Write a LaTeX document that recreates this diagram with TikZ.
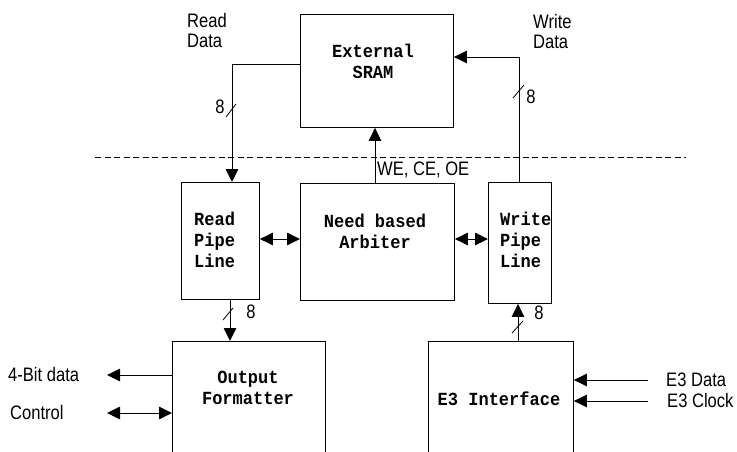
\documentclass[tikz,border=0pt]{standalone}
\usepackage{fontspec}
\setmainfont{Liberation Sans}
\newfontfamily\labfont[FakeStretch=0.85]{Liberation Sans}
\newfontfamily\monofont[FakeStretch=0.92]{Liberation Mono}
\usetikzlibrary{arrows.meta}
\begin{document}
\begin{tikzpicture}[x=1pt,y=-1pt,
  blk/.style={draw,line width=0.9pt,anchor=north west,inner sep=0pt},
  lab/.style={inner sep=0pt,font=\labfont\fontsize{19.5}{20}\selectfont},
  mono/.style={inner sep=0pt,font=\monofont\bfseries\fontsize{18.5}{21}\selectfont},
  conn/.style={line width=0.9pt},
  arr/.style={conn,-{Triangle[length=13pt,width=12.5pt]}},
  darr/.style={conn,{Triangle[length=13pt,width=12.5pt]}-{Triangle[length=13pt,width=12.5pt]}},
  bus/.style={line width=0.8pt}]
\clip (0,0) rectangle (737,452);
\fill[white] (0,0) rectangle (737,452);

% blocks
\node[blk,minimum width=153pt,minimum height=113pt] (sram) at (300,14) {};
\node[blk,minimum width=78pt,minimum height=117pt] (rpipe) at (181,182) {};
\node[blk,minimum width=154pt,minimum height=117pt] (arb) at (300,183) {};
\node[blk,minimum width=63pt,minimum height=121pt] (wpipe) at (488,182) {};
\node[blk,minimum width=153pt,minimum height=130pt] (of) at (172,341) {};
\node[blk,minimum width=145pt,minimum height=130pt] (e3) at (428,341) {};

% block texts
\node[mono,align=center] (tsram) at (373,61) {External\\SRAM};
\node[mono,align=left,anchor=west] (trpipe) at (194,240) {Read\\Pipe\\Line};
\node[mono,align=center] (tarb) at (375,231) {Need based\\Arbiter};
\node[mono,align=left,anchor=west] (twpipe) at (500,240) {Write\\Pipe\\Line};
\node[mono,align=center] (tof) at (248,388) {Output\\Formatter};
\node[mono] (te3) at (499,399) {E3 Interface};

% dashed boundary
\coordinate (dl) at (95,157);
\coordinate (dr) at (686,157);
\draw[conn,dash pattern=on 6pt off 3.5pt] (dl) -- (dr);

% read data
\draw[arr] (sram.west |- 0,64) -| (rpipe.north -| 232,0);
\draw[bus] (226,117) -- (236,104);
\node[lab] (r8) at (220,107) {8};
\node[lab,align=left,anchor=north west] (trd) at (187,13) {Read\\Data};

% write data
\draw[arr] (wpipe.north -| 519,0) |- (sram.east |- 0,57);
\draw[bus] (513,98) -- (524,85);
\node[lab] (w8) at (531,97) {8};
\node[lab,align=left,anchor=north west] (twd) at (533,14) {Write\\Data};

% control to SRAM
\draw[arr] (arb.north -| 375,0) -- (sram.south -| 375,0);
\node[lab,anchor=west] (twe) at (377,170) {WE, CE, OE};

% pipe <-> arbiter
\draw[darr] (rpipe.east |- 0,239) -- (arb.west |- 0,239);
\draw[darr] (arb.east |- 0,239) -- (wpipe.west |- 0,239);

% read pipe -> output formatter
\draw[arr] (rpipe.south -| 230,0) -- (of.north -| 230,0);
\draw[bus] (223,320) -- (233,308);
\node[lab] (o8) at (251,312) {8};

% E3 -> write pipe
\draw[arr] (e3.north -| 518,0) -- (wpipe.south -| 518,0);
\draw[bus] (512,333) -- (523,321);
\node[lab] (e8) at (539,313) {8};

% outputs
\coordinate (bitEnd) at (107,375);
\coordinate (ctlEnd) at (107,413);
\draw[arr] (of.west |- 0,375) -- (bitEnd);
\draw[darr] (ctlEnd) -- (of.west |- 0,413);
\node[lab,anchor=west] (t4b) at (8,375) {4-Bit data};
\node[lab,anchor=west] (tctl) at (10,413) {Control};

% inputs
\coordinate (e3dStart) at (648,380);
\coordinate (e3cStart) at (648,401);
\draw[arr] (e3dStart) -- (e3.east |- 0,380);
\draw[arr] (e3cStart) -- (e3.east |- 0,401);
\node[lab,anchor=west] (te3d) at (666,380) {E3 Data};
\node[lab,anchor=west] (te3c) at (667,401) {E3 Clock};
\end{tikzpicture}
\end{document}
